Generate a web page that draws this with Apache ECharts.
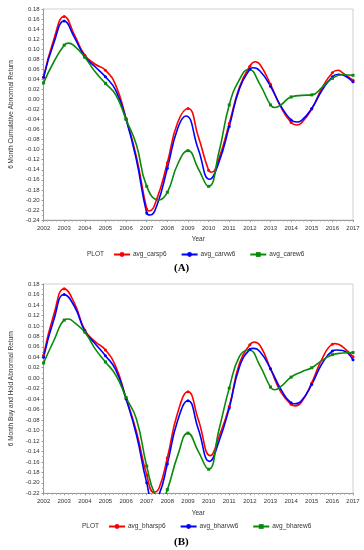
<!DOCTYPE html>
<html>
<head>
<meta charset="utf-8">
<script src="https://cdn.jsdelivr.net/npm/echarts@6/dist/echarts.min.js"></script>
<style>
html,body{margin:0;padding:0;background:#fff;}
#chart{width:364px;height:550px;}
</style>
</head>
<body>
<div id="chart"></div>
<script>
// x-axis tick years
const yearTicks = [2002,2003,2004,2005,2006,2007,2008,2009,2010,2011,2012,2013,2014,2015,2016,2017];

// Panel A: 6 Month Cumulative Abnormal Return  ([year, value])
const avg_carsp6 = [[2002,0.044],[2002.5,0.120],[2003,0.165],[2003.5,0.128],[2004,0.088],[2004.5,0.070],[2005,0.058],[2005.5,0.028],[2006,-0.038],[2006.5,-0.114],[2007,-0.218],[2007.12,-0.222],[2007.5,-0.197],[2008,-0.126],[2008.5,-0.046],[2009,-0.018],[2009.5,-0.074],[2010,-0.141],[2010.15,-0.145],[2010.5,-0.118],[2011,-0.048],[2011.5,0.025],[2012,0.066],[2012.26,0.075],[2012.5,0.069],[2013,0.030],[2013.5,-0.015],[2014,-0.046],[2014.27,-0.051],[2014.5,-0.047],[2015,-0.019],[2015.5,0.023],[2016,0.053],[2016.26,0.058],[2016.5,0.053],[2017,0.038]];
const avg_carvw6 = [[2002,0.044],[2002.5,0.113],[2003,0.156],[2003.5,0.123],[2004,0.085],[2004.5,0.065],[2005,0.045],[2005.5,0.018],[2006,-0.040],[2006.5,-0.120],[2007,-0.226],[2007.16,-0.230],[2007.5,-0.210],[2008,-0.137],[2008.5,-0.058],[2008.9,-0.033],[2009.5,-0.099],[2010.05,-0.159],[2010.5,-0.125],[2011,-0.054],[2011.5,0.022],[2012,0.060],[2012.15,0.063],[2012.5,0.056],[2013,0.026],[2013.5,-0.013],[2014,-0.041],[2014.27,-0.045],[2014.5,-0.042],[2015,-0.018],[2015.5,0.018],[2016,0.045],[2016.3,0.050],[2016.6,0.047],[2017,0.035]];
const avg_carew6 = [[2002,0.033],[2002.5,0.075],[2003,0.108],[2003.2,0.112],[2003.5,0.106],[2004,0.084],[2004.5,0.055],[2005,0.032],[2005.5,0.009],[2006,-0.040],[2006.5,-0.090],[2007,-0.173],[2007.59,-0.200],[2008,-0.185],[2008.5,-0.129],[2009,-0.102],[2009.5,-0.138],[2010,-0.173],[2010.5,-0.105],[2011,-0.011],[2011.5,0.040],[2011.94,0.060],[2012.5,0.029],[2013,-0.011],[2013.21,-0.016],[2013.5,-0.011],[2014,0.005],[2014.5,0.008],[2015,0.009],[2015.5,0.024],[2016,0.042],[2016.5,0.049],[2017,0.048]];

// Panel B: 6 Month Buy and Hold Abnormal Return
const avg_bharsp6 = [[2002,0.044],[2002.5,0.122],[2003,0.171],[2003.5,0.143],[2004,0.092],[2004.5,0.070],[2005,0.054],[2005.5,0.022],[2006,-0.038],[2006.5,-0.102],[2007,-0.185],[2007.35,-0.218],[2007.6,-0.210],[2008,-0.152],[2008.5,-0.066],[2009,-0.026],[2009.5,-0.079],[2010.09,-0.148],[2010.5,-0.112],[2011,-0.054],[2011.5,0.029],[2012,0.064],[2012.2,0.069],[2012.5,0.062],[2013,0.018],[2013.5,-0.026],[2014,-0.050],[2014.2,-0.053],[2014.5,-0.046],[2015,-0.009],[2015.5,0.037],[2016,0.065],[2016.13,0.066],[2016.5,0.060],[2017,0.041]];
const avg_bharvw6 = [[2002,0.040],[2002.5,0.112],[2003,0.160],[2003.5,0.137],[2004,0.090],[2004.5,0.066],[2005,0.043],[2005.5,0.016],[2006,-0.040],[2006.5,-0.108],[2007,-0.200],[2007.3,-0.232],[2007.6,-0.222],[2008,-0.164],[2008.5,-0.081],[2009,-0.043],[2009.5,-0.097],[2010.05,-0.159],[2010.5,-0.121],[2011,-0.057],[2011.5,0.022],[2012,0.055],[2012.15,0.057],[2012.5,0.050],[2013,0.018],[2013.5,-0.021],[2014,-0.047],[2014.2,-0.049],[2014.5,-0.043],[2015,-0.012],[2015.5,0.028],[2016,0.052],[2016.2,0.054],[2016.5,0.053],[2017,0.035]];
const avg_bharew6 = [[2002,0.029],[2002.5,0.072],[2003,0.111],[2003.2,0.113],[2003.5,0.106],[2004,0.088],[2004.5,0.056],[2005,0.031],[2005.5,0.006],[2006,-0.037],[2006.5,-0.078],[2007,-0.168],[2007.4,-0.222],[2007.75,-0.230],[2008,-0.213],[2008.5,-0.148],[2009,-0.105],[2009.5,-0.140],[2010,-0.174],[2010.5,-0.099],[2011,-0.019],[2011.5,0.042],[2011.95,0.054],[2012.5,0.023],[2013,-0.017],[2013.2,-0.022],[2013.5,-0.016],[2014,0.002],[2014.5,0.012],[2015,0.020],[2015.5,0.034],[2016,0.045],[2016.5,0.048],[2017,0.049]];

const FONT = 'Liberation Sans, Arial, sans-serif';
const RED = '#ff0000', BLUE = '#0000ff', GREEN = '#0a8a0a';

function mk(pts){
  return pts.map(p => ({value:p, symbol: yearTicks.includes(p[0]) ? undefined : 'none'}));
}
function line(name, pts, color, sym, gi){
  return {
    name, type:'line', xAxisIndex:gi, yAxisIndex:gi,
    data: mk(pts), smooth:0.5, symbol:sym, symbolSize:3, showAllSymbol:true,
    lineStyle:{color, width:1.6}, itemStyle:{color},
    emphasis:{disabled:true}
  };
}
const axisLbl = {fontSize:6, color:'#333', fontFamily:FONT};
function xAx(gi){
  return {
    gridIndex:gi, type:'value', min:2002, max:2017, interval:1,
    axisLine:{onZero:false, lineStyle:{color:'#999', width:1}},
    axisTick:{show:true, length:2, lineStyle:{color:'#999'}},
    minorTick:{show:true, splitNumber:5, length:1.5, lineStyle:{color:'#aaa'}},
    splitLine:{show:false},
    axisLabel:{...axisLbl, margin:5, formatter:v=>String(v)},
    name:'Year', nameLocation:'middle', nameGap:16,
    nameTextStyle:{fontSize:6.5, color:'#333', fontFamily:FONT}
  };
}
function yAx(gi, min, max, title){
  return {
    gridIndex:gi, type:'value', min, max, interval:0.02,
    axisLine:{show:true, onZero:false, lineStyle:{color:'#999', width:1}},
    axisTick:{show:true, length:2, lineStyle:{color:'#999'}},
    minorTick:{show:true, splitNumber:2, length:1.5, lineStyle:{color:'#aaa'}},
    splitLine:{show:false},
    axisLabel:{...axisLbl, margin:4, formatter:v=>v.toFixed(2)},
    name:title, nameLocation:'middle', nameGap:23,
    nameTextStyle:{fontSize:6.5, color:'#333', fontFamily:FONT}
  };
}
const legendCommon = {
  orient:'horizontal', itemWidth:16, itemHeight:6, itemGap:14, padding:0,
  textStyle:{fontSize:6.5, color:'#333', fontFamily:FONT, padding:[0,0,0,-2]},
  selectedMode:false
};

const chart = echarts.init(document.getElementById('chart'), null, {renderer:'canvas'});
chart.setOption({
  backgroundColor:'#fff',
  animation:false,
  grid:[
    {left:35, right:11, top:9, height:211, show:true, borderColor:'#d0d0d0', borderWidth:1, backgroundColor:'transparent'},
    {left:35, right:11, top:284, height:209.3, show:true, borderColor:'#d0d0d0', borderWidth:1, backgroundColor:'transparent'}
  ],
  xAxis:[xAx(0), xAx(1)],
  yAxis:[
    yAx(0, -0.24, 0.18, '6 Month Cumulative Abnormal Return'),
    yAx(1, -0.22, 0.18, '6 Month Buy and Hold Abnormal Return')
  ],
  legend:[
    {...legendCommon, left:113, top:251, data:['avg_carsp6','avg_carvw6','avg_carew6']},
    {...legendCommon, left:108, top:523, data:['avg_bharsp6','avg_bharvw6','avg_bharew6']}
  ],
  series:[
    line('avg_carsp6', avg_carsp6, RED, 'circle', 0),
    line('avg_carvw6', avg_carvw6, BLUE, 'circle', 0),
    line('avg_carew6', avg_carew6, GREEN, 'rect', 0),
    line('avg_bharsp6', avg_bharsp6, RED, 'circle', 1),
    line('avg_bharvw6', avg_bharvw6, BLUE, 'circle', 1),
    line('avg_bharew6', avg_bharew6, GREEN, 'rect', 1)
  ],
  graphic:[
    {type:'text', left:87, top:251, style:{text:'PLOT', fontSize:6.5, fill:'#333', fontFamily:FONT}},
    {type:'text', left:82, top:523, style:{text:'PLOT', fontSize:6.5, fill:'#333', fontFamily:FONT}},
    {type:'text', left:174, top:263, style:{text:'(A)', fontSize:11, fontWeight:'bold', fill:'#000', fontFamily:'Liberation Serif, serif'}},
    {type:'text', left:174, top:537, style:{text:'(B)', fontSize:11, fontWeight:'bold', fill:'#000', fontFamily:'Liberation Serif, serif'}}
  ]
});
</script>
</body>
</html>
